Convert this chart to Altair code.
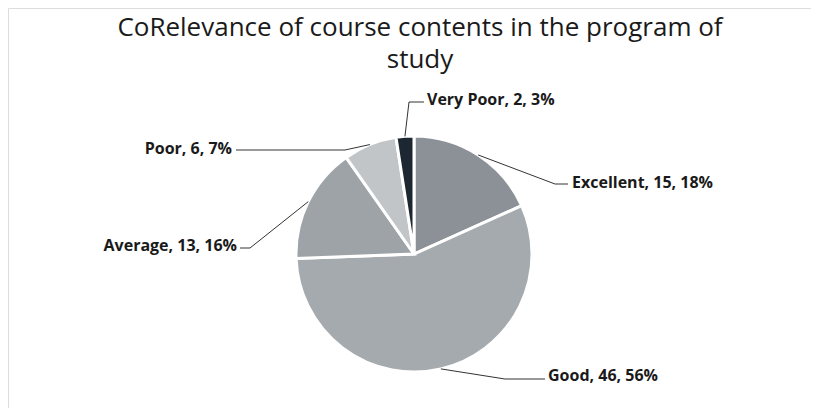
import altair as alt
import pandas as pd
import numpy as np

# ---- data ----
categories = ["Excellent", "Good", "Average", "Poor", "Very Poor"]
counts = [15, 46, 13, 6, 2]
percents = [18, 56, 16, 7, 3]

# ---- styles / layout ----
colors = ["#8b9197", "#a5aaae", "#9ea3a7", "#c2c5c8", "#1d2731"]
CX, CY, R = 406, 246, 118
# label anchor (x, y), alignment, leader elbow and end (chart pixel layout)
label_pos = [(564, 175), (540, 368), (229, 238), (224, 141), (419, 92)]
label_align = ["left", "left", "right", "right", "left"]
elbows = [(547, 176), (497, 371), (242, 240), (337, 142), (401, 94)]
ends = [(560, 176), (537, 371), (232, 240), (228, 142), (416, 94)]

df = pd.DataFrame({"category": categories, "count": counts,
                   "pct": percents, "idx": range(len(categories))})
df["label"] = [f"{c}, {n}, {p}%" for c, n, p in zip(categories, counts, percents)]
df["lx"] = [p[0] for p in label_pos]
df["ly"] = [p[1] for p in label_pos]
df["align"] = label_align

total = sum(counts)
cum = np.cumsum([0] + counts[:-1])
mid = (cum + np.array(counts) / 2) / total * 2 * np.pi
rows = []
for i, c in enumerate(categories):
    ex, ey = CX + R * np.sin(mid[i]), CY - R * np.cos(mid[i])
    for k, (px, py) in enumerate([(ex, ey), elbows[i], ends[i]]):
        rows.append({"category": c, "k": k, "px": px, "py": py})
lines = pd.DataFrame(rows)

arc = alt.Chart(df).mark_arc(outerRadius=R, stroke="white", strokeWidth=3).encode(
    theta=alt.Theta("count:Q", stack=True),
    order=alt.Order("idx:Q"),
    color=alt.Color("category:N", scale=alt.Scale(domain=categories, range=colors), legend=None),
    x=alt.value(CX), y=alt.value(CY),
)

leaders = alt.Chart(lines).mark_line(color="#333333", strokeWidth=1).encode(
    x=alt.X("px:Q", scale=None, axis=None),
    y=alt.Y("py:Q", scale=None, axis=None),
    detail="category:N",
    order="k:Q",
)

label_style = dict(font="Open Sans", fontSize=16, fontWeight="bold", color="#1a1a1a", baseline="middle")
labels_left = alt.Chart(df).transform_filter(alt.datum.align == "left").mark_text(align="left", **label_style).encode(
    x=alt.X("lx:Q", scale=None, axis=None), y=alt.Y("ly:Q", scale=None, axis=None), text="label:N")
labels_right = alt.Chart(df).transform_filter(alt.datum.align == "right").mark_text(align="right", **label_style).encode(
    x=alt.X("lx:Q", scale=None, axis=None), y=alt.Y("ly:Q", scale=None, axis=None), text="label:N")

title_df = pd.DataFrame({"t": ["CoRelevance of course contents in the program of\nstudy"]})
title = alt.Chart(title_df).mark_text(font="Open Sans", fontSize=26, color="#1a1a1a",
                                      align="center", baseline="alphabetic",
                                      lineBreak="\n", lineHeight=32).encode(
    x=alt.value(412), y=alt.value(28), text="t:N")

chart = alt.layer(arc, leaders, labels_left, labels_right, title).properties(
    width=803, height=400, padding=0
).configure_view(stroke="#dddddd", strokeWidth=1)

chart.save("out.html", embed_options={"renderer": "svg", "actions": False})
